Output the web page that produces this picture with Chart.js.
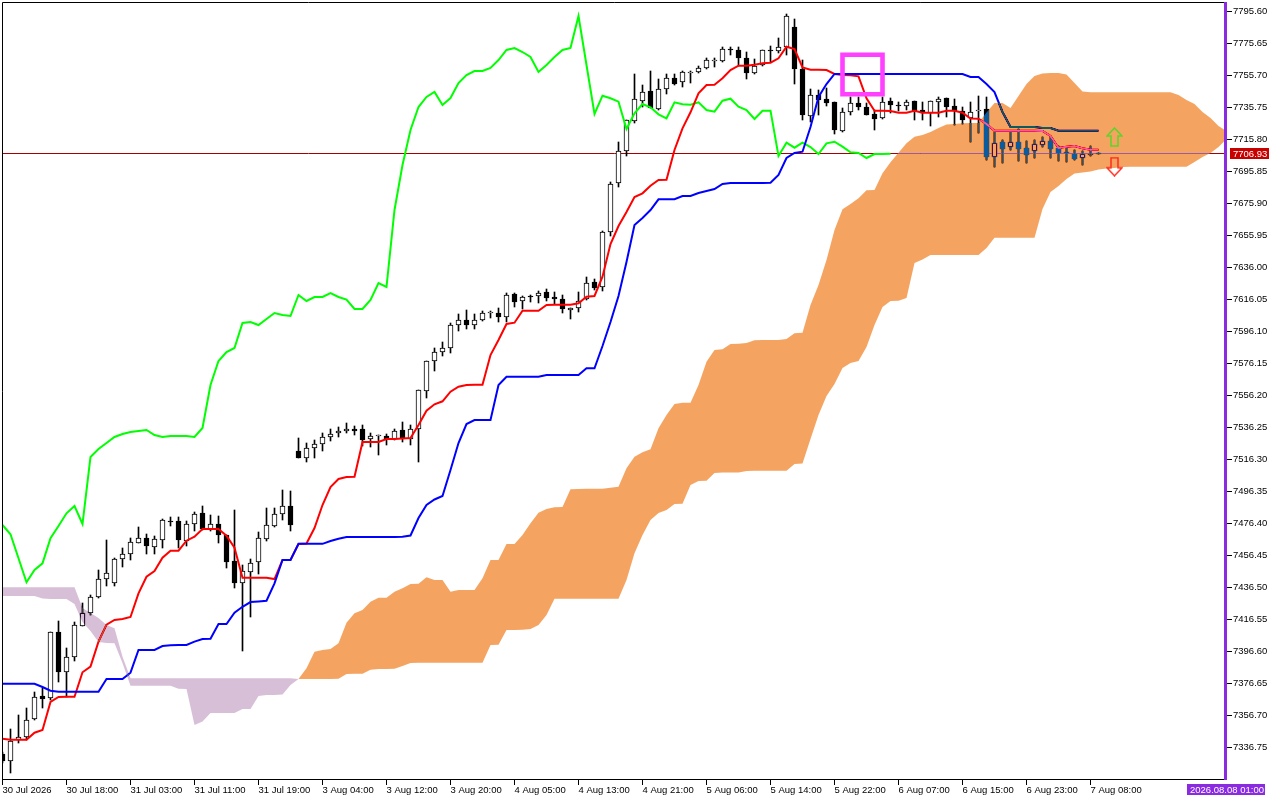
<!DOCTYPE html>
<html>
<head>
<meta charset="utf-8">
<title>Ichimoku chart</title>
<style>html,body{margin:0;padding:0;background:#fff}canvas{display:block}</style>
<script src="https://cdn.jsdelivr.net/npm/chart.js@4/dist/chart.umd.js"></script>
</head>
<body>
<canvas id="c" width="1280" height="800"></canvas>
<script>
const xTickLabels=["30 Jul 2026","30 Jul 18:00","31 Jul 03:00","31 Jul 11:00","31 Jul 19:00","3 Aug 04:00","3 Aug 12:00","3 Aug 20:00","4 Aug 05:00","4 Aug 13:00","4 Aug 21:00","5 Aug 06:00","5 Aug 14:00","5 Aug 22:00","6 Aug 07:00","6 Aug 15:00","6 Aug 23:00","7 Aug 08:00"];
const yTickValues=[7795.60,7775.65,7755.70,7735.75,7715.80,7695.85,7675.90,7655.95,7636.00,7616.05,7596.10,7576.15,7556.20,7536.25,7516.30,7496.35,7476.40,7456.45,7436.50,7416.55,7396.60,7376.65,7356.70,7336.75];
const priceLabel="7706.93";
const bidLine=7707.07;
const dateLabel="2026.08.08 01:00";
const boxX=[105,110,110,105,105];
const boxY=[7768.67,7768.67,7743.98,7743.98,7768.67];
const arrowX=139;
const arrowUpY=7717.36;
const arrowDownY=7698.84;

const open=[7332.7,7328.5,7341.4,7343.5,7354.3,7368.9,7367.6,7408.6,7384.0,7393.4,7412.7,7420.4,7430.4,7441.6,7439.5,7454.1,7457.2,7464.4,7467.2,7461.9,7466.1,7478.0,7477.8,7465.7,7476.1,7482.8,7473.2,7475.9,7469.2,7453.0,7439.1,7446.4,7452.2,7466.6,7475.0,7482.1,7487.3,7521.7,7517.1,7523.3,7525.8,7530.1,7532.6,7533.9,7535.1,7535.1,7528.9,7530.8,7531.1,7529.3,7534.5,7529.3,7535.1,7558.8,7577.5,7583.1,7585.6,7600.0,7603.1,7600.0,7603.1,7607.6,7607.5,7605.3,7619.3,7614.9,7618.2,7618.0,7620.5,7617.4,7616.2,7609.3,7610.6,7616.2,7627.1,7624.0,7658.1,7688.5,7708.8,7727.5,7740.0,7745.9,7735.0,7747.1,7754.0,7751.5,7757.5,7757.7,7760.2,7764.9,7764.6,7772.0,7771.4,7766.4,7757.4,7762.1,7771.6,7771.2,7773.3,7785.8,7759.8,7730.6,7743.4,7741.1,7739.2,7721.3,7733.1,7738.6,7735.9,7731.5,7729.4,7739.6,7737.5,7736.9,7739.6,7734.2,7732.1,7739.0,7741.5,7736.5,7733.8,7728.9,7733.8,7734.6,7705.1,7714.1,7710.9,7714.1,7710.3,7708.8,7712.6,7714.7,7710.3,7708.0,7706.6,7704.1,7706.3,7707.4];
const high=[7333.9,7348.3,7357.0,7361.2,7371.2,7373.7,7408.6,7415.8,7398.6,7415.0,7426.7,7431.8,7447.4,7466.1,7454.7,7460.9,7467.6,7474.0,7469.9,7468.6,7479.2,7480.6,7480.6,7478.1,7483.8,7487.3,7481.7,7481.3,7469.2,7484.8,7450.5,7454.1,7470.9,7485.9,7486.1,7497.3,7496.7,7529.5,7526.4,7528.5,7532.6,7535.1,7536.4,7538.9,7537.2,7537.8,7532.6,7531.6,7532.0,7535.1,7539.5,7537.8,7559.6,7577.9,7585.6,7589.7,7601.2,7607.0,7609.5,7607.0,7609.1,7608.9,7610.6,7619.9,7619.9,7618.2,7618.9,7621.4,7622.4,7620.5,7618.9,7610.9,7620.5,7629.9,7628.6,7658.8,7689.1,7714.1,7728.0,7756.6,7749.6,7758.5,7753.3,7756.4,7756.6,7758.7,7758.7,7761.8,7766.4,7766.4,7773.3,7773.7,7773.5,7770.5,7766.0,7771.6,7774.3,7778.9,7793.9,7790.9,7765.4,7747.3,7746.7,7748.1,7739.2,7735.3,7742.5,7742.5,7738.4,7734.2,7742.5,7741.7,7739.4,7740.4,7739.8,7739.0,7739.8,7742.5,7741.5,7741.1,7735.9,7739.2,7742.9,7742.3,7720.7,7715.5,7720.7,7722.4,7715.1,7715.5,7717.2,7717.5,7711.9,7710.3,7709.3,7708.6,7711.8,7707.4];
const low=[7327.1,7320.9,7339.7,7341.4,7353.9,7361.2,7366.4,7377.8,7368.4,7390.9,7412.5,7419.4,7430.1,7437.4,7437.4,7449.5,7453.7,7464.1,7457.2,7457.4,7460.9,7474.8,7460.9,7462.6,7471.9,7472.3,7471.9,7464.1,7448.8,7436.4,7397.1,7418.3,7444.9,7465.7,7474.4,7478.6,7471.9,7517.1,7515.0,7517.1,7521.3,7528.0,7530.1,7532.6,7531.6,7524.7,7524.3,7519.1,7525.3,7528.5,7527.4,7525.3,7515.0,7554.5,7571.7,7581.0,7582.9,7596.6,7597.5,7597.5,7602.8,7604.3,7602.2,7602.2,7611.6,7609.9,7614.3,7614.1,7615.3,7613.3,7607.8,7603.9,7608.4,7615.7,7622.0,7621.5,7655.6,7686.4,7705.5,7726.3,7736.3,7735.2,7734.2,7744.2,7749.8,7748.7,7751.2,7757.1,7759.6,7761.2,7763.9,7768.5,7761.6,7753.7,7756.6,7761.6,7763.9,7769.9,7768.5,7750.2,7728.0,7726.9,7731.1,7736.7,7719.2,7720.5,7731.1,7734.2,7731.0,7721.7,7728.8,7732.1,7733.6,7734.2,7728.0,7728.0,7724.2,7729.6,7730.0,7724.8,7725.5,7714.4,7719.9,7703.0,7698.8,7701.3,7709.3,7702.4,7701.0,7704.5,7711.3,7704.1,7702.4,7702.0,7703.0,7699.9,7705.5,7706.9];
const close=[7328.3,7341.0,7343.5,7353.9,7368.4,7367.2,7408.6,7384.0,7393.4,7412.9,7420.4,7430.4,7441.6,7445.4,7454.1,7457.4,7464.7,7467.2,7462.6,7466.6,7478.6,7477.3,7466.1,7476.1,7482.1,7472.8,7475.9,7469.0,7452.6,7439.5,7446.8,7451.6,7467.2,7475.3,7482.3,7487.3,7475.7,7517.5,7523.3,7525.8,7530.1,7532.0,7533.9,7535.1,7534.3,7528.5,7531.1,7531.6,7528.9,7534.3,7529.9,7535.1,7559.4,7577.5,7583.1,7585.6,7600.2,7603.1,7600.0,7603.1,7607.8,7608.1,7605.3,7618.7,7614.7,7617.4,7617.4,7619.9,7617.2,7616.2,7609.9,7610.6,7615.3,7626.5,7623.4,7658.1,7688.0,7708.8,7728.0,7740.9,7745.2,7735.3,7747.1,7754.0,7750.6,7757.7,7757.9,7760.2,7765.2,7765.2,7772.0,7771.4,7766.4,7757.4,7761.6,7771.4,7770.8,7773.3,7792.8,7759.9,7731.1,7743.4,7740.4,7738.6,7721.7,7732.8,7738.4,7736.1,7731.1,7728.8,7739.0,7737.3,7736.9,7739.0,7733.8,7732.1,7739.6,7741.2,7736.3,7733.8,7728.0,7733.1,7734.2,7705.1,7713.8,7709.9,7714.1,7710.1,7706.1,7712.8,7714.7,7710.1,7707.6,7707.4,7703.8,7706.6,7707.0,7706.9];

const tenkan=[7342.23,7341.61,7341.61,7341.61,7345.97,7347.66,7365.11,7368.23,7368.42,7368.42,7383.65,7387.15,7402.73,7413.31,7416.24,7416.86,7418.11,7432.88,7443.23,7446.79,7455.08,7459.44,7459.44,7465.67,7468.17,7472.97,7472.97,7472.97,7468.79,7461.31,7442.6,7442.6,7442.6,7442.6,7441.79,7453.68,7453.68,7463.62,7463.93,7473.59,7487.93,7499.15,7504.14,7505.39,7505.57,7527.2,7527.2,7527.2,7529.08,7529.08,7529.39,7529.7,7537.81,7546.72,7550.71,7552.58,7558.57,7561.69,7562.75,7562.93,7562.93,7581.45,7590.8,7600.78,7601.59,7609.07,7609.07,7609.07,7612.63,7612.81,7612.81,7612.81,7613.68,7617.8,7618.23,7630.26,7650.65,7661.87,7670.6,7679.95,7682.26,7687.0,7690.55,7690.74,7709.25,7722.78,7732.76,7744.6,7749.78,7749.97,7753.95,7759.13,7761.81,7761.81,7762.43,7763.31,7763.68,7766.42,7773.66,7772.22,7760.69,7759.32,7759.32,7759.13,7756.64,7756.01,7755.82,7755.2,7741.49,7733.76,7733.76,7733.57,7732.51,7732.51,7733.76,7732.51,7732.51,7732.51,7733.76,7733.76,7732.51,7728.89,7728.77,7725.46,7721.29,7721.29,7721.29,7721.29,7721.29,7721.29,7721.1,7717.98,7710.5,7711.31,7711.75,7710.31,7709.44,7709.44];
const kijun=[7376.52,7376.52,7376.52,7376.52,7376.52,7374.46,7372.16,7371.53,7371.53,7371.53,7371.53,7371.53,7371.53,7379.45,7379.45,7379.45,7383.4,7397.53,7397.53,7397.53,7400.03,7400.47,7400.66,7400.66,7402.73,7404.4,7404.59,7413.68,7413.68,7420.73,7424.47,7427.4,7427.84,7428.27,7439.12,7453.68,7453.68,7463.74,7463.74,7463.7,7463.7,7465.49,7466.92,7467.99,7467.99,7467.99,7467.99,7467.99,7467.99,7467.99,7468.17,7468.92,7479.83,7487.93,7491.36,7493.54,7509.75,7526.59,7538.43,7540.93,7540.93,7540.93,7562.75,7567.92,7567.92,7567.92,7567.92,7567.92,7568.98,7568.98,7568.98,7568.98,7568.98,7573.16,7573.16,7587.06,7602.02,7618.23,7639.43,7662.5,7666.86,7671.85,7678.52,7678.52,7678.52,7680.58,7680.58,7682.45,7683.7,7684.94,7688.06,7688.68,7688.68,7688.68,7688.68,7688.68,7688.87,7693.67,7704.27,7707.38,7708.19,7723.59,7742.3,7750.4,7756.64,7756.64,7756.64,7756.64,7756.64,7756.64,7756.64,7756.64,7756.64,7756.64,7756.64,7756.64,7756.64,7756.64,7756.64,7756.64,7756.64,7754.77,7754.77,7750.4,7745.41,7732.95,7723.59,7723.59,7723.59,7723.59,7722.97,7722.97,7721.29,7721.29,7721.29,7721.29,7721.29,7721.29];
const chikou=[7475.46,7469.67,7454.7,7439.74,7447.41,7451.58,7467.17,7474.84,7482.76,7487.31,7476.09,7517.86,7522.85,7526.59,7530.33,7532.2,7533.45,7534.07,7534.69,7531.58,7530.33,7530.95,7530.95,7530.95,7530.33,7535.94,7562.75,7577.71,7583.32,7585.82,7601.4,7602.02,7600.15,7603.89,7607.63,7606.38,7605.76,7618.85,7615.11,7617.6,7617.6,7620.1,7617.6,7616.05,7610.13,7610.13,7615.74,7626.33,7623.84,7671.85,7699.9,7721.72,7736.06,7742.3,7745.41,7737.31,7741.67,7751.02,7756.01,7758.5,7758.5,7760.38,7765.36,7771.6,7772.85,7770.35,7767.23,7757.88,7762.25,7767.23,7771.6,7772.85,7792.8,7762.25,7731.7,7743.11,7741.49,7739.37,7722.35,7732.13,7737.93,7735.87,7731.51,7729.02,7738.99,7737.75,7737.5,7738.99,7734.19,7733.13,7739.99,7741.24,7736.25,7734.19,7728.58,7733.76,7733.76,7705.51,7713.81,7710.69,7713.81,7711.12,7706.76,7713.43,7714.43,7711.31,7707.82,7707.38,7704.27,7706.76,7706.76,7706.95];
const senkouA=[7431.2,7431.2,7431.2,7431.2,7431.2,7429.65,7429.33,7429.33,7429.33,7426.21,7415.0,7409.39,7402.54,7401.91,7401.72,7389.43,7375.27,7375.27,7375.27,7375.27,7375.27,7375.27,7373.4,7373.22,7350.77,7352.95,7358.25,7358.25,7358.25,7358.25,7360.75,7360.75,7368.85,7369.47,7369.47,7369.78,7375.7,7379.45,7386.13,7396.43,7397.53,7398.15,7401.72,7414.55,7420.42,7422.47,7427.65,7430.14,7430.14,7433.88,7436.0,7438.68,7438.86,7442.86,7441.18,7441.18,7433.88,7434.94,7434.94,7434.94,7442.23,7453.68,7453.68,7463.62,7463.62,7469.23,7476.52,7483.13,7485.44,7486.5,7486.69,7497.72,7497.91,7498.1,7498.1,7498.1,7498.72,7499.35,7510.82,7518.05,7520.79,7522.66,7535.75,7544.04,7550.9,7551.71,7551.71,7562.75,7577.27,7584.57,7585.0,7588.3,7588.49,7588.93,7590.61,7590.8,7590.8,7590.8,7591.42,7594.98,7595.35,7612.62,7625.09,7640.68,7659.38,7672.28,7675.59,7679.14,7684.13,7684.32,7694.73,7701.59,7707.57,7713.43,7717.54,7718.6,7720.48,7722.97,7725.15,7725.46,7725.9,7726.09,7726.09,7732.63,7738.56,7738.56,7735.44,7742.92,7750.4,7755.39,7756.95,7757.26,7757.26,7756.32,7751.02,7745.73,7745.23,7745.23,7745.23,7745.23,7745.23,7745.23,7745.23,7745.23,7745.23,7745.23,7745.23,7743.55,7740.43,7737.93,7732.95,7729.21,7724.22,7721.1];
const senkouB=[7436.61,7436.61,7436.61,7436.61,7436.61,7436.61,7436.61,7436.61,7436.61,7436.61,7423.72,7420.6,7417.49,7413.12,7411.07,7393.36,7379.92,7379.92,7379.92,7379.92,7379.92,7379.92,7379.92,7379.92,7379.92,7379.92,7379.92,7379.92,7379.92,7379.92,7379.92,7379.92,7379.92,7379.92,7379.92,7379.92,7379.92,7379.45,7379.45,7379.45,7379.45,7379.45,7379.64,7382.57,7382.76,7382.76,7385.25,7385.68,7385.68,7385.87,7387.56,7389.43,7389.62,7389.62,7389.62,7389.62,7389.62,7389.62,7389.62,7389.62,7389.62,7400.66,7400.85,7410.01,7410.01,7410.2,7410.63,7413.12,7419.36,7429.52,7429.52,7429.52,7429.52,7429.52,7429.52,7429.52,7429.52,7429.52,7441.18,7457.83,7469.23,7478.58,7482.95,7484.82,7488.56,7488.75,7500.4,7502.9,7503.08,7507.88,7508.19,7508.19,7508.19,7509.13,7509.32,7509.32,7509.32,7509.32,7509.32,7513.5,7513.81,7529.08,7544.04,7555.88,7563.37,7573.34,7576.46,7577.71,7586.44,7600.15,7611.37,7615.11,7615.3,7616.98,7638.81,7640.99,7643.8,7643.8,7643.8,7643.8,7643.8,7643.8,7643.8,7648.16,7654.58,7654.58,7654.58,7654.58,7654.58,7654.58,7672.47,7683.07,7686.81,7691.17,7694.6,7695.23,7695.85,7697.1,7697.72,7698.03,7698.66,7698.84,7698.84,7698.84,7698.84,7698.84,7698.84,7698.84,7698.84,7701.77,7704.89,7707.38,7711.12,7716.11];

const BASE_FONT={family:'"Liberation Sans", Arial, sans-serif',size:9.5};
const FONT_CSS='9.5px "Liberation Sans", Arial, sans-serif';

function arrowCanvas(up,color){
  const c=document.createElement('canvas');c.width=17;c.height=20;
  const g=c.getContext('2d');
  g.strokeStyle=color;g.lineWidth=1.5;g.lineJoin='miter';
  const p=up?[[8.5,1],[16,9],[12,9],[12,19],[5,19],[5,9],[1,9]]:[[8.5,19],[16,11],[12,11],[12,1],[5,1],[5,11],[1,11]];
  g.beginPath();p.forEach((q,i)=>i?g.lineTo(q[0],q[1]):g.moveTo(q[0],q[1]));g.closePath();g.stroke();
  return c;
}
const pts=a=>a.map((y,x)=>({x,y}));

const cloudPlugin={
  id:'cloud',
  beforeDraw(chart){
    const {ctx,width,height}=chart;
    ctx.save();ctx.fillStyle='#fff';ctx.fillRect(0,0,width,height);ctx.restore();
  },
  afterDatasetsUpdate(chart){
    chart.getSortedVisibleDatasetMetas().forEach(m=>{
      if(m.type!=='bar')return;
      m.data.forEach(el=>{
        let a=Math.round(el.y),b=Math.round(el.base);
        if(a===b)b=a+1;
        el.y=a;el.base=b;
      });
    });
  },
  afterDatasetDraw(chart,args){
    if(chart.data.datasets[args.index].label!=='kijun')return;
    const {ctx,chartArea:ca,scales:{x,y}}=chart;
    const run=(from,to,color)=>{
      ctx.beginPath();
      for(let i=from;i<=to;i++){const px=x.getPixelForValue(i),py=y.getPixelForValue(senkouA[i]);i===from?ctx.moveTo(px,py):ctx.lineTo(px,py);}
      for(let i=to;i>=from;i--){ctx.lineTo(x.getPixelForValue(i),y.getPixelForValue(senkouB[i]));}
      ctx.closePath();ctx.fillStyle=color;ctx.fill();
    };
    ctx.save();
    ctx.beginPath();ctx.rect(ca.left,ca.top,ca.right-ca.left-2,ca.bottom-ca.top);ctx.clip();
    ctx.globalCompositeOperation='difference';
    run(0,37,'#274027');
    run(37,senkouA.length-1,'#0b5b9f');
    ctx.restore();
  },
  afterDraw(chart){
    const {ctx,chartArea:ca,scales:{y}}=chart;
    ctx.save();
    ctx.strokeStyle='#000';ctx.lineWidth=1;
    ctx.beginPath();
    ctx.moveTo(ca.left+.5,ca.bottom);ctx.lineTo(ca.left+.5,ca.top+.5);ctx.lineTo(ca.right,ca.top+.5);
    ctx.moveTo(ca.left,ca.bottom-.5);ctx.lineTo(ca.right,ca.bottom-.5);
    ctx.stroke();
    ctx.fillStyle='#8a2be2';
    ctx.fillRect(ca.right-2,ca.top,3,ca.bottom-ca.top);
    const py=Math.round(y.getPixelForValue(bidLine));
    ctx.fillStyle='#c80000';ctx.fillRect(1230,py-6,39,11);
    ctx.fillStyle='#fff';ctx.font=FONT_CSS;ctx.textBaseline='middle';ctx.textAlign='left';
    ctx.fillText(priceLabel,1233,py);
    ctx.fillStyle='#8a2be2';ctx.fillRect(1187,784,78,11);
    ctx.fillStyle='#fff';ctx.fillText(dateLabel,1190,790);
    ctx.restore();
  }
};

new Chart(document.getElementById('c'),{
  type:'bar',
  plugins:[cloudPlugin],
  data:{datasets:[
    {type:'scatter',label:'arrowUp',order:1,data:[{x:arrowX,y:arrowUpY}],pointStyle:arrowCanvas(true,'#5ad52a'),pointRadius:8,showLine:false},
    {type:'scatter',label:'arrowDown',order:1,data:[{x:arrowX,y:arrowDownY}],pointStyle:arrowCanvas(false,'#ff2d1e'),pointRadius:8,showLine:false},
    {type:'line',label:'box',order:2,data:boxX.map((x,i)=>({x,y:boxY[i]})),borderColor:'#ff40ff',borderWidth:4.6,borderJoinStyle:'miter',borderCapStyle:'square',pointRadius:0,tension:0,fill:false},
    {type:'line',label:'kijun',order:3,data:pts(kijun),borderColor:'#0000ff',borderWidth:2,pointRadius:0,tension:0,fill:false},
    {type:'line',label:'tenkan',order:4,data:pts(tenkan),borderColor:'#ff0000',borderWidth:2,pointRadius:0,tension:0,fill:false},
    {type:'line',label:'chikou',order:5,data:pts(chikou),borderColor:'#00ff00',borderWidth:2,pointRadius:0,tension:0,fill:false},
    {type:'bar',label:'body',order:6,grouped:false,barThickness:5,borderWidth:1,borderSkipped:false,borderColor:'#000',
      backgroundColor:open.map((o,i)=>close[i]>=o?'#fff':'#000'),
      data:open.map((o,i)=>({x:i,y:[o,close[i]]}))},
    {type:'bar',label:'wick',order:7,grouped:false,barThickness:1,borderWidth:0,backgroundColor:'#000',
      data:open.map((o,i)=>({x:i,y:[low[i],high[i]]}))},
    {type:'line',label:'bid',order:8,data:[{x:0,y:bidLine},{x:senkouA.length,y:bidLine}],borderColor:'#a80000',borderWidth:1,pointRadius:0,tension:0,fill:false}
  ]},
  options:{
    responsive:false,animation:false,
    layout:{autoPadding:false,padding:{left:2,top:2,right:0,bottom:0}},
    plugins:{legend:{display:false},tooltip:{enabled:false}},
    scales:{
      x:{type:'linear',offset:false,min:-0.0625,max:152.9375,
        afterBuildTicks:a=>{a.ticks=xTickLabels.map((_,i)=>({value:i*8}));},
        afterFit:a=>{a.height=20;a.paddingLeft=0;a.paddingRight=0;},
        border:{display:false},
        grid:{drawOnChartArea:false,drawTicks:true,tickLength:5,tickColor:'#000',offset:false},
        ticks:{autoSkip:false,maxRotation:0,minRotation:0,align:'start',padding:0,color:'#000',font:BASE_FONT,
          callback:v=>xTickLabels[Math.round(v/8)]}},
      y:{type:'linear',position:'right',min:7316.487,max:7801.523,
        afterBuildTicks:a=>{a.ticks=yTickValues.map(v=>({value:v}));},
        afterFit:a=>{a.width=54;a.paddingTop=0;a.paddingBottom=0;},
        border:{display:false},
        grid:{drawOnChartArea:false,drawTicks:true,tickLength:6,tickColor:'#000'},
        ticks:{autoSkip:false,padding:1,color:'#000',font:BASE_FONT,callback:v=>v.toFixed(2)}}
    }
  }
});
</script>
</body>
</html>
